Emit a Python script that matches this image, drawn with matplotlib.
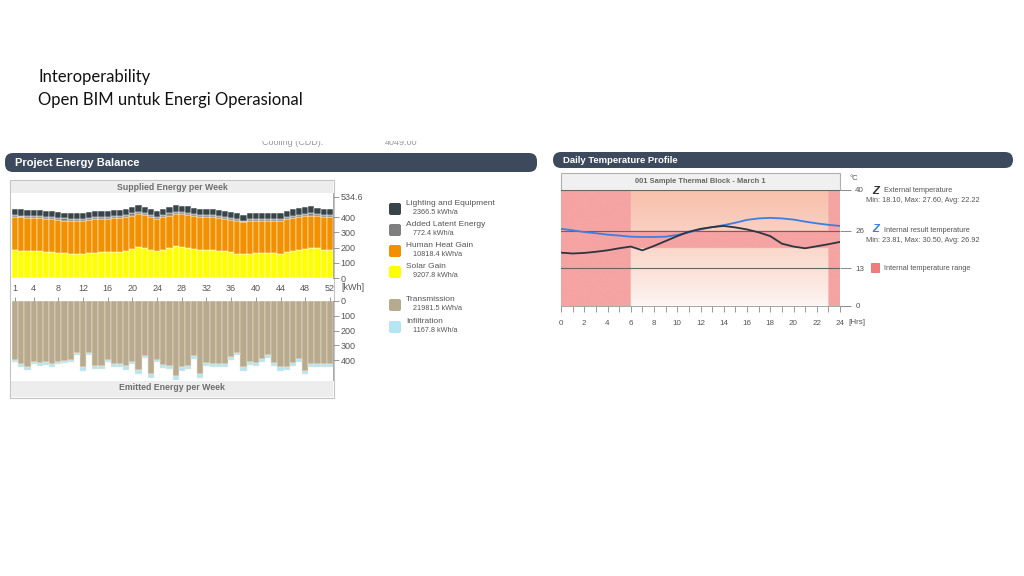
import numpy as np
import matplotlib
matplotlib.use("Agg")
from matplotlib import pyplot as plt
from matplotlib.patches import FancyBboxPatch, Rectangle

# ---- data ----
weeks = np.arange(1, 53)
week_ticks = [1, 4, 8, 12, 16, 20, 24, 28, 32, 36, 40, 44, 48, 52]

solar = [184, 180, 178, 178, 175, 172, 168, 165, 163, 160, 160, 160,
         163, 166, 168, 168, 170, 172, 180, 190, 205, 195, 185, 175,
         185, 195, 210, 205, 200, 190, 185, 183, 183, 180, 175, 168,
         160, 155, 160, 165, 165, 165, 165, 160, 170, 178, 183, 190,
         200, 195, 185, 184]
human = [219, 218, 217, 215, 218, 218, 217, 215, 215, 217, 217, 217,
         217, 219, 222, 222, 222, 223, 220, 220, 215, 217, 215, 215,
         215, 215, 210, 213, 215, 215, 215, 215, 215, 215, 215, 215,
         215, 210, 213, 210, 210, 210, 210, 215, 215, 217, 217, 215,
         210, 210, 213, 214]
latent = [14, 13, 14, 15, 13, 12, 14, 15, 14, 13, 12, 13,
          14, 15, 14, 13, 14, 15, 16, 15, 14, 13, 15, 14,
          15, 16, 15, 14, 15, 14, 13, 14, 15, 14, 13, 14,
          15, 12, 14, 13, 14, 15, 14, 13, 14, 15, 16, 15,
          16, 15, 14, 14]
lighting = [37, 40, 41, 42, 40, 38, 39, 38, 37, 38, 37, 36,
            38, 38, 37, 38, 39, 38, 40, 42, 46, 44, 40, 36,
            40, 44, 45, 44, 42, 40, 38, 40, 40, 39, 38, 37,
            36, 38, 40, 40, 40, 40, 40, 38, 40, 42, 43, 44,
            45, 42, 40, 42]

transmission = [398, 427, 444, 411, 420, 416, 427, 411, 404, 400, 353, 449,
                349, 438, 438, 398, 427, 427, 442, 411, 467, 371, 493, 396,
                433, 438, 509, 449, 442, 375, 493, 420, 427, 427, 427, 382,
                349, 449, 416, 420, 393, 367, 420, 449, 449, 420, 393, 471,
                427, 427, 427, 427]
infiltration = [16, 20, 22, 18, 19, 17, 21, 18, 17, 16, 15, 22,
                16, 21, 20, 17, 20, 19, 22, 18, 24, 17, 25, 18,
                20, 21, 26, 22, 21, 17, 25, 19, 20, 19, 20, 17,
                15, 22, 19, 20, 18, 17, 19, 22, 21, 19, 18, 24,
                20, 21, 20, 20]

supplied_names = ["Lighting and Equipment", "Added Latent Energy", "Human Heat Gain", "Solar Gain"]
supplied_totals = ["2366.5 kWh/a", "772.4 kWh/a", "10818.4 kWh/a", "9207.8 kWh/a"]
emitted_names = ["Transmission", "Infiltration"]
emitted_totals = ["21981.5 kWh/a", "1167.8 kWh/a"]

hours = np.arange(0, 25)
external = [18.4, 18.1, 18.3, 18.7, 19.2, 19.9, 20.5, 19.2, 20.7, 22.4, 24.1, 25.6,
            26.6, 27.2, 27.6, 27.1, 26.4, 25.4, 24.1, 21.5, 20.5, 19.9, 20.6, 21.3, 22.1]
internal = [26.6, 26.1, 25.5, 25.1, 24.6, 24.3, 23.9, 23.8, 23.8, 23.9, 24.5, 25.4,
            26.4, 27.2, 27.9, 28.7, 29.7, 30.2, 30.4, 30.2, 29.8, 29.1, 28.5, 28.0, 27.6]
occupied_hours = (6, 23)
comfort_range = (20, 26)
temp_ticks = [0, 13, 26, 40]

# ---- colours ----
c_light = "#37444a"
c_latent = "#7f7f7f"
c_human = "#f39000"
c_solar = "#ffff00"
c_trans = "#b8aa8f"
c_infil = "#b3e6f2"
c_head = "#3d4a5e"
c_txt = "#555555"
c_ext = "#2e3440"
c_int = "#3c7fe0"
c_red = "#f5a3a3"

W, H = 1024, 576
plt.rcParams['font.family'] = ['Liberation Sans', 'DejaVu Sans']
fig = plt.figure(figsize=(W / 100, H / 100), dpi=100)


def px_axes(x0, y0, x1, y1, **kw):
    return fig.add_axes([x0 / W, 1 - y1 / H, (x1 - x0) / W, (y1 - y0) / H], **kw)


bg = px_axes(0, 0, W, H, zorder=0)
bg.set_xlim(0, W)
bg.set_ylim(H, 0)
bg.axis("off")

# slide title
bg.text(38, 77, "Interoperability", fontsize=12, family="Lato", va="center", color="#111111")
bg.text(38, 100, "Open BIM untuk Energi Operasional", fontsize=12, family="Lato", va="center", color="#111111")

# faint text above the left header, cut off at the top
clip = px_axes(240, 141, 440, 150, zorder=1)
clip.set_xlim(240, 440)
clip.set_ylim(150, 141)
clip.axis("off")
clip.text(262, 142.5, "Cooling (CDD):", fontsize=6.5, color="#999999", va="center", clip_on=True)
clip.text(385, 142.5, "4049.00", fontsize=6.5, color="#999999", va="center", clip_on=True)

# header bars
for x0, x1, y0, y1, label, fs in [(5, 537, 153, 172, "Project Energy Balance", 8),
                                   (553, 1013, 152, 168, "Daily Temperature Profile", 6.8)]:
    bg.add_patch(FancyBboxPatch((x0, y0), x1 - x0, y1 - y0,
                                boxstyle="round,pad=0,rounding_size=8",
                                facecolor=c_head, edgecolor="none"))
    bg.text(x0 + 10, (y0 + y1) / 2 + 0.5, label, color="white", fontsize=fs,
            fontweight="bold", va="center")

# left frame and title bands
bg.add_patch(Rectangle((10, 180), 324, 218, facecolor="white", edgecolor="#c4c4c4", lw=0.8))
bg.add_patch(Rectangle((11, 181), 322, 12, facecolor="#ededed", edgecolor="none"))
bg.text(172, 187, "Supplied Energy per Week", fontsize=6.3, fontweight="bold",
        color="#6e6e6e", ha="center", va="center")
bg.add_patch(Rectangle((11, 381), 322, 16, facecolor="#ededed", edgecolor="none"))
bg.text(172, 388, "Emitted Energy per Week", fontsize=6.3, fontweight="bold",
        color="#6e6e6e", ha="center", va="center")
bg.text(341, 287, "[kWh]", fontsize=6.5, color=c_txt, va="center")

# supplied energy chart
ax1 = px_axes(12, 193, 333, 278, zorder=2)
b1 = np.array(solar)
b2 = b1 + np.array(human)
b3 = b2 + np.array(latent)
ew = 0.35
ax1.bar(weeks, solar, width=1, color=c_solar, edgecolor="white", linewidth=ew)
ax1.bar(weeks, human, width=1, bottom=b1, color=c_human, edgecolor="white", linewidth=ew)
ax1.bar(weeks, latent, width=1, bottom=b2, color=c_latent, edgecolor="white", linewidth=ew)
ax1.bar(weeks, lighting, width=1, bottom=b3, color=c_light, edgecolor="white", linewidth=ew)
ax1.set_xlim(0.5, 52.5)
ax1.set_ylim(0, 559)
ax1.yaxis.tick_right()
ax1.set_yticks([0, 100, 200, 300, 400, 534.6])
ax1.set_yticklabels(["0", "100", "200", "300", "400", "534.6"])
ax1.set_xticks(week_ticks)
ax1.tick_params(axis="y", length=4, width=0.6, color="#888888", labelsize=6.5,
                labelcolor=c_txt, pad=1.5)
ax1.tick_params(axis="x", length=0, labelsize=6.5, labelcolor=c_txt, pad=4)
for s in ["left", "top", "bottom"]:
    ax1.spines[s].set_visible(False)
ax1.spines["right"].set_color("#999999")
ax1.spines["right"].set_linewidth(0.6)

# emitted energy chart
ax2 = px_axes(12, 301, 333, 380, zorder=2)
ax2.bar(weeks, transmission, width=1, color=c_trans, edgecolor="#f3ead6", linewidth=ew)
ax2.bar(weeks, infiltration, width=1, bottom=transmission, color=c_infil,
        edgecolor="#f3ead6", linewidth=ew)
ax2.set_xlim(0.5, 52.5)
ax2.set_ylim(534.6, 0)
ax2.yaxis.tick_right()
ax2.set_yticks([0, 100, 200, 300, 400])
ax2.set_xticks(week_ticks)
ax2.tick_params(axis="y", length=4, width=0.6, color="#888888", labelsize=6.5,
                labelcolor=c_txt, pad=1.5)
ax2.tick_params(axis="x", top=True, bottom=False, labeltop=False, labelbottom=False,
                direction="out", length=3, width=0.6, color="#888888")
for s in ["left", "top", "bottom"]:
    ax2.spines[s].set_visible(False)
ax2.spines["right"].set_color("#999999")
ax2.spines["right"].set_linewidth(0.6)

# left legend
legend_rows = [(203, c_light), (224, c_latent), (245, c_human), (266, c_solar),
               (299, c_trans), (321, c_infil)]
legend_text = list(zip(supplied_names + emitted_names, supplied_totals + emitted_totals))
for (y, col), (name, total) in zip(legend_rows, legend_text):
    bg.add_patch(FancyBboxPatch((389, y), 12, 12, boxstyle="round,pad=0,rounding_size=2",
                                facecolor=col, edgecolor="none"))
    bg.text(406, y + 0.5, name, fontsize=6, color=c_txt, va="center")
    bg.text(413, y + 9.5, total, fontsize=5.2, color=c_txt, va="center")

# right frame and title band
bg.add_patch(Rectangle((561, 173), 279, 17, facecolor="#f0f0f0", edgecolor="#b0b0b0", lw=0.8))
bg.text(700, 181.5, "001 Sample Thermal Block - March 1", fontsize=5.4, fontweight="bold",
        color="#666666", ha="center", va="center")
bg.text(849, 179, "°C", fontsize=5.5, color=c_txt, va="center")
bg.text(848, 322, "[Hrs]", fontsize=5.8, color=c_txt, va="center")

# temperature chart
ax3 = px_axes(561, 190, 840, 306, zorder=2)
ny, nx = 400, 240
T = np.linspace(40, 0, ny)[:, None] * np.ones((1, nx))
hh = (np.arange(nx)[None, :] + 0.5) / 10 * np.ones((ny, 1))
peach = np.array([248, 192, 172]) / 255
white = np.array([253, 247, 245]) / 255
red = np.array(matplotlib.colors.to_rgb(c_red))
f = (T / 40)[..., None] ** 0.8
img = white * (1 - f) + peach * f
off = (hh < occupied_hours[0]) | (hh >= occupied_hours[1])
band = (T >= comfort_range[0]) & (T <= comfort_range[1])
img[off | band] = red
ax3.imshow(img, extent=(0, 24, 0, 40), aspect="auto", origin="upper", interpolation="bilinear")
for t in temp_ticks[1:]:
    ax3.axhline(t, color="#666666", lw=0.8)
ax3.plot(hours, internal, color=c_int, lw=1.3)
ax3.plot(hours, external, color=c_ext, lw=1.3)
ax3.set_xlim(0, 24)
ax3.set_ylim(0, 40)
ax3.yaxis.tick_right()
ax3.set_yticks(temp_ticks)
ax3.set_xticks(hours)
ax3.set_xticklabels([str(h) if h % 2 == 0 else "" for h in hours])
ax3.tick_params(axis="y", length=8, width=0.6, color="#777777", labelsize=5.8,
                labelcolor=c_txt, pad=3)
ax3.tick_params(axis="x", length=4, width=0.6, color="#888888", labelsize=5.8,
                labelcolor=c_txt, pad=6)
for s in ["left", "top", "right"]:
    ax3.spines[s].set_visible(False)
ax3.spines["bottom"].set_color("#999999")
ax3.spines["bottom"].set_linewidth(0.6)

# right legend
bg.text(876, 190.5, "Z", fontsize=8, fontweight="bold", style="italic", color=c_ext,
        ha="center", va="center")
bg.text(884, 191, "External temperature", fontsize=5.3, color=c_txt, va="center")
bg.text(866, 201, "Min: 18.10, Max: 27.60, Avg: 22.22", fontsize=5.3, color=c_txt, va="center")
bg.text(876, 229.5, "Z", fontsize=8, fontweight="bold", style="italic", color=c_int,
        ha="center", va="center")
bg.text(884, 230, "Internal result temperature", fontsize=5.3, color=c_txt, va="center")
bg.text(866, 240, "Min: 23.81, Max: 30.50, Avg: 26.92", fontsize=5.3, color=c_txt, va="center")
bg.add_patch(Rectangle((871, 263), 8, 9, facecolor="#f07c7c", edgecolor="#e06060", lw=0.5))
bg.text(884, 268, "Internal temperature range", fontsize=5.3, color=c_txt, va="center")

fig.savefig("out.png", dpi=100)
